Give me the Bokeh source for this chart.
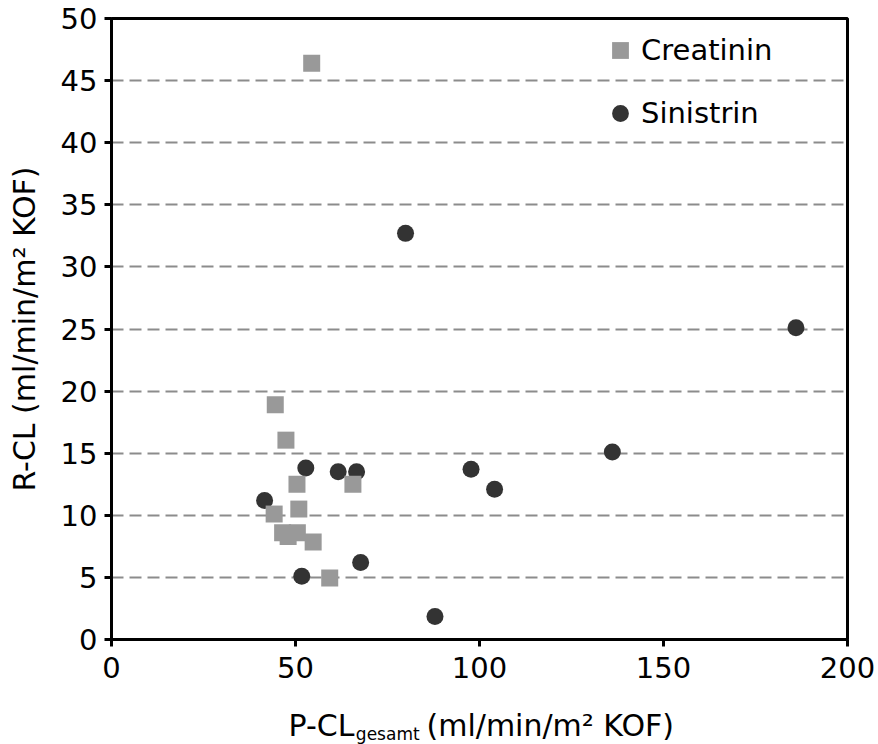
from bokeh.plotting import figure
from bokeh.layouts import column
from bokeh.models import Range1d, Legend, LegendItem, FixedTicker
from bokeh.core.properties import value
from bokeh.embed import file_html
from bokeh.resources import INLINE

# Data
sinistrin_x = [41.6, 51.7, 52.8, 61.6, 66.6, 67.7, 79.9, 87.9, 97.7, 104.1, 136.1, 186.0]
sinistrin_y = [11.2, 5.1, 13.8, 13.5, 13.5, 6.2, 32.7, 1.85, 13.7, 12.1, 15.1, 25.1]

creatinin_x = [44.5, 47.4, 50.4, 65.6, 50.9, 44.2, 46.5, 50.5, 48.0, 54.8, 59.3, 54.4]
creatinin_y = [18.9, 16.05, 12.5, 12.5, 10.5, 10.1, 8.6, 8.6, 8.3, 7.85, 4.95, 46.4]

x_ticks = [0, 50, 100, 150, 200]
y_ticks = [0, 5, 10, 15, 20, 25, 30, 35, 40, 45, 50]

y_label = "R-CL (ml/min/m² KOF)"
x_label_main = "P-CL"
x_label_sub = "gesamt"
x_label_rest = "(ml/min/m² KOF)"
series_names = ["Creatinin", "Sinistrin"]

FONT = "DejaVu Sans"
FS_TICK = "29px"
FS_LABEL = "30px"

p = figure(width=878, height=695, output_backend="svg", toolbar_location=None,
           x_range=Range1d(0, 200), y_range=Range1d(0, 50),
           min_border_left=111, min_border_right=31,
           min_border_top=18, min_border_bottom=56)

p.background_fill_color = "white"
p.border_fill_color = "white"
p.outline_line_color = "black"
p.outline_line_width = 3

p.xgrid.grid_line_color = None
p.ygrid.grid_line_color = "#8c8c8c"
p.ygrid.grid_line_width = 2
p.ygrid.grid_line_dash = "12 6"

for ax in (p.xaxis[0], p.yaxis[0]):
    ax.axis_line_color = "black"
    ax.axis_line_width = 3
    ax.major_tick_line_color = "black"
    ax.major_tick_line_width = 3
    ax.major_tick_in = 0
    ax.major_tick_out = 7
    ax.minor_tick_line_color = None
    ax.major_label_text_font = FONT
    ax.major_label_text_font_size = FS_TICK
    ax.major_label_text_color = "black"

p.xaxis[0].ticker = FixedTicker(ticks=x_ticks)
p.yaxis[0].ticker = FixedTicker(ticks=y_ticks)
p.xaxis[0].major_label_standoff = 10
p.yaxis[0].major_label_standoff = 7

p.yaxis[0].axis_label = y_label
p.yaxis[0].axis_label_text_font = FONT
p.yaxis[0].axis_label_text_font_size = FS_LABEL
p.yaxis[0].axis_label_text_font_style = "normal"
p.yaxis[0].axis_label_text_color = "black"
p.yaxis[0].axis_label_standoff = 16

# Scatter series (circles first, squares on top)
r_sin = p.scatter(sinistrin_x, sinistrin_y, marker="circle", size=17,
                  fill_color="#333333", line_color="#333333", line_width=0)
r_cre = p.scatter(creatinin_x, creatinin_y, marker="square", size=17,
                  fill_color="#999999", line_color="#999999", line_width=0)

legend = Legend(items=[LegendItem(label=series_names[0], renderers=[r_cre]),
                       LegendItem(label=series_names[1], renderers=[r_sin])],
                location=(488, 505))
legend.border_line_color = None
legend.background_fill_alpha = 0
legend.padding = 0
legend.margin = 0
legend.spacing = 21
legend.glyph_width = 42
legend.glyph_height = 42
legend.label_height = 42
legend.label_standoff = 0
legend.label_text_font = FONT
legend.label_text_font_size = FS_TICK
legend.label_text_color = "black"
p.add_layout(legend)

# X axis title with subscript, in a strip aligned with the plot frame
t = figure(width=878, height=49, output_backend="svg", toolbar_location=None,
           x_range=Range1d(0, 200), y_range=Range1d(0, 49),
           min_border_left=111, min_border_right=31,
           min_border_top=0, min_border_bottom=0,
           x_axis_type=None, y_axis_type=None)
t.outline_line_color = None
t.grid.grid_line_color = None
t.background_fill_color = "white"
t.border_fill_color = "white"

t.text(x=[66.0], y=[19], text=[x_label_main], text_align="right",
       text_baseline="alphabetic", text_font=value(FONT),
       text_font_size=value(FS_LABEL), text_color="black")
t.text(x=[66.4], y=[11], text=[x_label_sub], text_align="left",
       text_baseline="alphabetic", text_font=value(FONT),
       text_font_size=value("17px"), text_color="black")
t.text(x=[85.6], y=[19], text=[x_label_rest], text_align="left",
       text_baseline="alphabetic", text_font=value(FONT),
       text_font_size=value(FS_LABEL), text_color="black")

layout = column(p, t, spacing=0)
open("out.html", "w").write(file_html(layout, INLINE))
